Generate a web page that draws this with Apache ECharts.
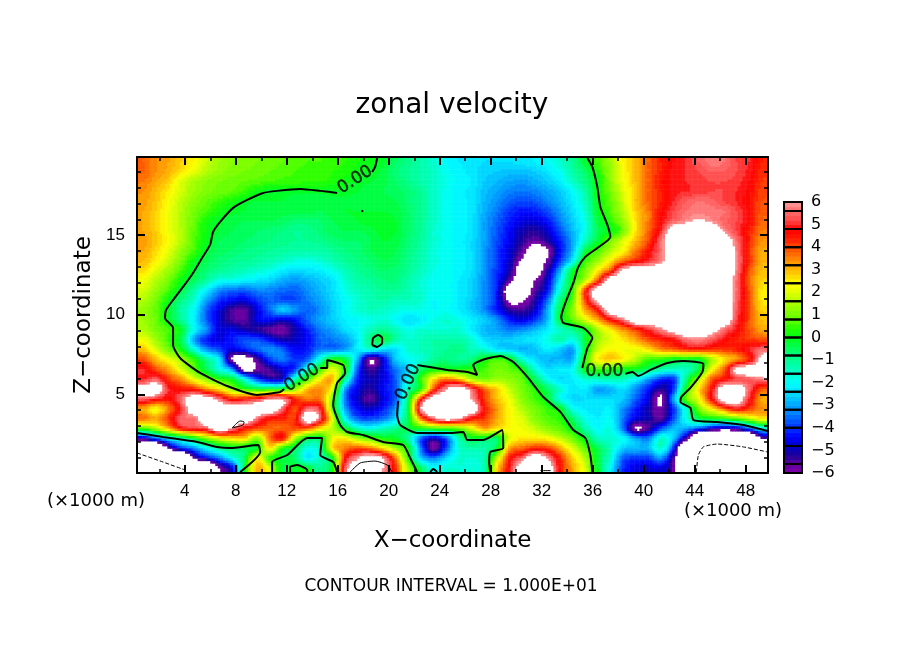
<!DOCTYPE html>
<html><head><meta charset="utf-8">
<script src="https://cdn.jsdelivr.net/npm/echarts@6/dist/echarts.min.js"></script>
<style>html,body{margin:0;padding:0;background:#fff}#c{width:904px;height:654px}</style>
</head><body><div id="c"></div>
<script>
const xMin=0.25,xMax=49.75,zMin=0.05,zMax=19.92;
const xMajorTicks=[4,8,12,16,20,24,28,32,36,40,44,48];
const xMinorTicks=[2,6,10,14,18,22,26,30,34,38,42,46];
const zMajorTicks=[5,10,15];
const zMinorTicks=[1,2,3,4,6,7,8,9,11,12,13,14,16,17,18,19];
const paletteStops=['#8000a8','#6000a0','#1c0098','#0000c8','#0000ff','#0030ff','#0060ff','#0090ff','#00b8ff','#00e0ff','#00ffff','#00ffd0','#00ffa8','#00ff80','#00ff50','#00ff18','#20ff00','#60ff00','#88ff00','#b0ff00','#e0ff00','#ffff00','#ffd000','#ffa800','#ff7800','#ff4c00','#ff1800','#ff0000','#ff4848','#ff6c6c','#ff9c9c'];
const colorBoxEdges=[-6,-5.6,-4.8,-4,-3.2,-2.4,-1.6,-0.8,0,0.8,1.6,2.4,3.2,4,4.8,5.6,6];
const colorBandLevels=[-5.9,-5.7,-5.5,-5.3,-5.1,-4.9,-4.7,-4.5,-4.3,-4.1,-3.9,-3.7,-3.5,-3.3,-3.1,-2.9,-2.7,-2.5,-2.3,-2.1,-1.9,-1.7,-1.5,-1.3,-1.1,-0.9,-0.7,-0.5,-0.3,-0.1,0.1,0.3,0.5,0.7,0.9,1.1,1.3,1.5,1.7,1.9,2.1,2.3,2.5,2.7,2.9,3.1,3.3,3.5,3.7,3.9,4.1,4.3,4.5,4.7,4.9,5.1,5.3,5.5,5.7,5.9];

// zonal velocity, top row first, 50 columns by 32 rows; beyond +-6 is off-scale (white)
const velocityRows=[
[3.8,3.4,3.2,2.8,2.4,1.8,1.4,1.2,1.1,1,.9,.8,.7,.6,.6,.5,.4,.2,.1,-.1,-.6,-.9,-1.2,-1.6,-2,-2.2,-2.3,-2.4,-2.4,-2.4,-2.3,-2.2,-2,-1.6,-1,-.2,.6,1.4,2.4,3,3.8,4.4,4.8,5,5.4,5.7,5.6,5.2,5,4.4],
[3.8,3.4,3.1,2.6,2.1,1.6,1.3,1.1,1,.9,.8,.7,.6,.5,.5,.4,.3,.1,-.05,-.3,-.7,-1,-1.2,-1.5,-1.9,-2.1,-2.3,-2.5,-2.6,-2.7,-2.7,-2.6,-2.3,-1.9,-1.2,-.6,.3,1.3,2.3,3,3.8,4.4,4.9,5,5.2,5.4,5.4,5.2,4.9,4.3],
[3.6,3.2,2.8,2,1.5,1.2,1,.9,.8,.7,.6,.5,.5,.4,.4,.3,.1,-.1,-.2,-.3,-.6,-.9,-1.2,-1.5,-1.8,-2.1,-2.2,-2.6,-2.8,-3,-3.1,-2.9,-2.6,-2.2,-1.5,-.8,0,1.2,2.2,3,3.8,4.5,4.9,5,5.1,5.2,5.2,5.1,4.8,4.2],
[3.4,3,2.5,1.9,1.4,1.1,.9,.8,.5,.1,-.1,-.1,-.1,-.1,-.1,-.1,-.1,-.2,-.3,-.4,-.5,-.7,-1,-1.5,-1.9,-2.1,-2.3,-2.7,-3,-3.3,-3.4,-3.3,-3,-2.6,-2,-1.2,.1,1,2,2.9,3.8,4.4,4.9,5,5.1,5.2,5.2,5,4.7,4.1],
[3.3,2.9,2.3,1.7,1.2,.8,.5,.2,-.1,-.2,-.2,-.2,-.3,-.3,-.3,-.3,-.3,-.3,-.3,-.3,-.4,-.7,-1,-1.5,-1.9,-2.1,-2.3,-2.8,-3.2,-3.6,-3.8,-3.7,-3.3,-2.8,-2.2,-1.4,0,.8,1.8,3,3.8,4.4,5,5.4,5.6,5.5,5.2,5,4.6,4],
[3.2,2.8,2.2,1.6,1,.6,.2,-.1,-.2,-.3,-.3,-.3,-.3,-.3,-.4,-.3,-.2,-.2,-.2,-.2,-.3,-.6,-1,-1.5,-1.9,-2.1,-2.3,-2.9,-3.4,-4,-4.3,-4.2,-3.8,-3.1,-2.4,-1.6,-.1,.7,1.6,2.8,3.6,4.6,5.2,5.6,5.7,5.7,5.6,5.2,4.7,3.9],
[3.2,2.8,2.2,1.6,.9,.2,-.1,-.3,-.4,-.4,-.4,-.5,-.7,-.7,-.6,-.4,-.3,-.2,-.1,-.1,-.2,-.6,-1,-1.5,-1.9,-2.1,-2.3,-3,-3.6,-4.2,-4.6,-4.7,-4.3,-3.4,-2.6,-1.8,-.3,.4,1.3,2.6,3.6,4.7,5.5,5.9,6.2,5.9,5.5,5.2,4.7,3.8],
[3.2,2.8,2.2,1.6,.8,.1,-.2,-.4,-.5,-.6,-.7,-.8,-1,-.9,-.7,-.5,-.4,-.4,-.3,-.1,-.2,-.6,-1,-1.6,-1.9,-2.1,-2.3,-3,-3.7,-4.4,-5,-5.2,-4.8,-3.8,-2.8,-1.8,-.4,0,1,2.6,3.8,5,7,7,7,7,5.9,5.2,4.4,3.6],
[3.3,2.9,2.3,1.6,.7,.05,-.4,-.5,-.6,-.7,-.8,-.9,-1,-1,-.9,-.7,-.6,-.6,-.4,-.2,-.3,-.7,-1.1,-1.6,-1.9,-2.1,-2.4,-3,-3.8,-4.5,-5.2,-5.7,-5.2,-4.2,-3,-1.4,-.2,1,2,3,4,5.6,7,7,7,7,7,5.6,4.4,3.4],
[3.2,2.7,2.1,1.3,.6,-.2,-.5,-.6,-.8,-.9,-1,-1.1,-1.2,-1.2,-1.2,-1,-.8,-.7,-.4,-.3,-.4,-.8,-1.2,-1.7,-1.9,-2.1,-2.4,-3.1,-3.9,-4.7,-5.6,-7,-6.2,-4.4,-2.8,-.4,.7,1.6,2.4,3.6,4.6,5.6,7,7,7,7,7,5.8,4.2,3.2],
[3,2.5,1.8,1,.05,-.4,-.7,-.9,-1,-1.1,-1.3,-1.5,-1.7,-1.8,-1.6,-1.3,-1,-.8,-.6,-.4,-.5,-.9,-1.3,-1.7,-1.9,-2.1,-2.4,-3.1,-3.9,-4.8,-6.2,-7,-5.8,-4,-2.2,.4,1.3,2.5,3.7,4.4,5,5.8,7,7,7,7,7,5.8,4.3,3.1],
[2.7,2,1.4,.6,-.2,-.7,-1,-1.2,-1.4,-1.6,-1.8,-2.2,-2.4,-2.3,-2.2,-1.8,-1.4,-1,-.8,-.6,-.7,-1,-1.4,-1.8,-1.9,-2.1,-2.4,-3.1,-4,-5,-7,-7,-5.2,-3,-.2,1,2.5,4,6.5,7,7,7,7,7,7,7,7,5.8,4,3],
[2.2,1.6,1,.1,-.5,-1.1,-1.8,-1.9,-2.1,-2.3,-2.5,-2.9,-3.1,-2.9,-2.6,-2.3,-1.6,-1.2,-1,-.8,-.8,-1.2,-1.6,-1.9,-1.9,-2.2,-2.5,-3.2,-4.1,-5.6,-7,-6,-4.8,-2.2,.1,1.6,4,7,7,7,7,7,7,7,7,7,7,5.6,3.8,2.8],
[1.9,1.3,.6,-.3,-1.2,-2.2,-3.2,-3.5,-3.6,-3.3,-3.3,-3.5,-3.6,-3.2,-2.8,-2.4,-1.8,-1.4,-1.2,-1,-1,-1.3,-1.6,-1.9,-1.9,-2.2,-2.5,-3.2,-4.2,-7,-7,-5.6,-4.4,-1.6,.4,4.2,7,7,7,7,7,7,7,7,7,7,7,5.6,4,2.6],
[1.6,1,.05,-.8,-1.6,-3,-4,-4.4,-4.6,-4,-3.6,-3.8,-3.8,-3.4,-3,-2.5,-2,-1.6,-1.3,-1.2,-1.4,-1.4,-1.6,-2,-1.9,-2.2,-2.6,-3.2,-4.2,-6.4,-6.2,-5.2,-3.6,-.8,.8,4,6.5,7,7,7,7,7,7,7,7,7,7,5.5,4,2.6],
[1.3,.8,-.1,-1.2,-2,-3.6,-4.6,-5.4,-5.6,-4.6,-3.6,-2.6,-3.2,-3.6,-3.2,-2.6,-2,-1.6,-1.4,-1.5,-1.7,-1.8,-1.8,-2,-1.9,-2.2,-2.6,-3.2,-4.2,-5.2,-5.4,-4.8,-3,-.4,1.2,3.2,4.6,7,7,7,7,7,7,7,7,7,7,5.4,4,2.8],
[1.4,.9,0,-1,-2.2,-3.6,-4.8,-5.4,-5.6,-4.6,-4.4,-4.8,-4.4,-3.6,-3,-2.6,-2.2,-2,-1.8,-1.6,-2,-2.4,-2.2,-1.8,-1.6,-1.8,-2.2,-2.6,-3.2,-4.2,-4.6,-4,-2.8,-.4,.8,2,3.2,4.6,5.6,7,7,7,7,7,7,7,7,5.2,4,3],
[1.6,1,.6,-.1,-2,-3.2,-4.6,-4.6,-5,-5.2,-5.6,-5.8,-5,-4.2,-3.4,-3,-2.4,-2,-1.4,-1,-1.4,-1.8,-1.6,-1.6,-1.6,-1.6,-2.2,-2.8,-3,-3.4,-3.2,-2.8,-2.2,-1.5,-.9,0,1.5,2.5,3.4,4.2,5,5.8,6.5,7,7,6.5,5.6,4.8,4,3.2],
[2.2,1.4,.5,-.4,-3,-4.2,-4.6,-4.2,-3.8,-3.8,-4.4,-5,-4.8,-4.4,-3.6,-3.4,-3,-2.2,-.8,-.3,-1.2,-1.6,-1.4,-1.2,-1.2,-1.2,-1.6,-2.4,-2.6,-2.6,-2.4,-2.3,-1.8,-1.2,-1.8,-.2,1.4,2,2.6,3.2,4,4.4,4.8,5.6,5.8,5.4,4.8,4.4,4.2,4],
[3,2,1,.2,-1.6,-3.2,-3.8,-4.6,-4.2,-3.6,-3.2,-3.6,-4.4,-4.2,-3.4,-3.4,-3,-2.2,-1.8,-2.4,-2.4,-1.6,-1.4,-1.2,-1,-.8,-1.4,-1.6,-2.3,-2.5,-2.8,-2.7,-2.2,-2.6,-3,-.2,1.8,2.4,2.2,2.2,2.6,3.4,3.8,4.2,4.4,4.2,4.2,4.4,5,5.6],
[4,3,2.2,1.4,.4,-1,-2.2,-6,-7,-5.5,-4,-3.4,-4,-3.6,-1.6,.2,-.3,-3,-6.1,-4.6,-2.6,-2,-1.6,-1,-.8,-1,-.8,.1,.6,.2,-1.6,-2.4,-2.8,-2.8,-2.8,.3,2.4,2.8,2.4,1.6,.6,.4,0,0,0,1.4,2.6,3.4,4.4,6.4],
[5,4,3.2,2,.8,-.4,-1.8,-3,-6.5,-5.8,-5.4,-4.6,-4,-1.6,.4,2,.2,-3.8,-5.4,-4.6,-3.4,-2.4,-.6,.1,.2,.2,.3,.6,1,.8,.2,-1.6,-2.4,-2.2,-2,0,.6,.3,.1,0,-.6,-1.2,-1.5,-1.4,-.3,2.2,3.8,6.5,7,7],
[5,5.4,4.2,3.4,2.2,1.2,.4,-.1,-1.8,-3.8,-4.8,-4.6,-1.4,.6,2.4,3,-1,-4.2,-5,-4.6,-3.6,-1.8,.5,2.6,3.6,3,1.6,1,1.4,1.2,.8,-.4,-1.8,-2.4,-2.2,-1.6,-1.4,-1.2,-1.4,-2,-3,-4,-4,-.8,1.5,3.8,4.6,5.2,5.4,5.8],
[6.5,7,5,4.6,4.4,3.4,2.6,1.4,.4,0,-.1,.1,1.2,3,3.4,2,-3,-4.6,-5.2,-4.4,-3.6,-1.2,.4,4,6,7,5.5,3.8,2.8,1.8,1,.4,-.5,-1.6,-2.3,-2.2,-3,-2.8,-2.4,-3.2,-4.2,-5.2,-4,.1,2.6,4.5,7,7,5.5,4],
[5.5,5,4.6,5.6,7,6.8,5.6,4.4,4.6,5,6,6,4.4,3.6,3.6,1,-3.4,-4.8,-5.6,-4.6,-3.6,-.4,4.4,7,7,7,6,4.2,3,2.2,1.2,.6,-.1,-1.8,-2.4,-2.4,-2.4,-2.4,-2.6,-3.6,-4.6,-6.3,-3,.8,2.2,4.6,6.8,7,5,3.2],
[3.2,2.4,3.6,5,7,7,7,7,7,7,7,5.6,4,5.6,5,.8,-3,-4.4,-4.8,-4.2,-3,-.1,6,7,7,7,7,4.6,3.4,2.4,1.6,1,.5,0,-1.8,-2.2,-2.3,-2.2,-3.2,-4.2,-5,-5.8,-4,-1.5,1,2.4,3.8,4.8,4.2,3.4],
[3.6,3.2,4.2,5.5,5.6,7,7,7,7,5.6,4.6,4.4,4.2,7,5.4,2,-2,-3.6,-3.8,-3.4,-2.4,-.2,3.6,5.6,6.5,6,4.6,4.2,3.2,2.4,2,1.2,.7,.4,-.6,-1.8,-2.2,-2,-3.4,-4.6,-5,-5.6,-3.8,-1.8,-.4,-.1,.2,.8,1.6,2.4],
[.6,1.6,3,4.6,5,5.4,7,5.8,4.6,4,3.8,3.8,4,3.8,2.6,1.6,0,-1.4,-1.8,-1.4,-.9,-.3,.1,.5,.6,1,2,3.2,2.6,2.4,2.2,1.8,1.2,.8,.1,-1.2,-2,-1.8,-3.4,-6.1,-5.4,-3.8,-2.8,-3,-3.8,-4.8,-5.4,-5,-3.6,-2],
[-5,-3.6,-2.2,-1.2,-.1,1.2,2.2,2.6,2.8,1.2,3.6,4.6,1.6,-.2,-.3,2.2,2.4,1.4,.8,.2,-.1,-1.2,-3.6,-4.8,-3.6,-1.2,-.2,-.3,-.5,2,2.6,2.6,2.4,1.8,1,-.1,-1.4,-1.6,-2,-3,-3.4,-1.6,-2.6,-5.5,-10,-10,-10,-10,-10,-6],
[-10,-10,-6,-4.2,-3.2,-2,-1,-.4,-.4,0,2.6,.3,-.4,-1.8,-1.2,2.6,3.6,4,3.6,2.6,1.4,.1,-3.4,-5.8,-3.8,-1.6,-1.2,-1.2,-.2,3.2,3.8,4.4,4.2,3.2,2,.8,-.4,-1.4,-2.6,-2.8,-2.8,-1.6,-4,-10,-10,-10,-10,-10,-10,-10],
[-10,-10,-10,-10,-6,-4.6,-3.4,-2,-.5,2.4,.5,-.2,-.6,-2.2,-1.4,.1,4.6,6,7,6,3.6,.4,-2.6,-3.4,-2.4,-1.6,-1.6,-1.2,1.6,4.4,5.6,7,6,4.4,2.8,1.6,-.3,-1.6,-3.6,-4,-4,-3.2,-5.4,-10,-10,-10,-10,-10,-10,-10],
[-10,-10,-10,-10,-10,-10,-6,-4.6,-.2,3,2,-.2,-.1,-.1,-1,.3,5.4,7,7,6,4.2,1.4,-.5,-2,-1.6,-1.6,-1.6,-1.2,2.6,4.8,7,7,7,4.6,3.2,2,-.2,-2,-4,-4.6,-4.8,-4.6,-5.8,-10,-10,-10,-10,-10,-10,-10]
];

// contour traces in axis units (x km, z km)
const zeroContours=[
[[15.95,17.66],[14.62,17.79],[13.05,17.91],[11.24,17.79],[10.14,17.66],[8.89,17.22],[7.79,16.72],[6.77,15.84],[6.22,15.21],[5.98,14.39],[5.35,13.57],[4.65,12.63],[3.86,11.75],[3.08,10.93],[2.53,10.30],[2.45,9.80],[3.08,9.17],[3.08,8.10],[3.63,7.28],[5.20,6.34],[7.32,5.52],[9.67,4.96],[11.48,5.14],[11.79,5.33]],
[[14.62,6.65],[15.17,6.65],[15.17,7.16],[16.42,6.84],[16.58,6.34],[15.95,5.71],[15.64,4.33],[16.19,3.07],[16.74,2.63],[17.99,2.44],[19.56,2.00],[21.13,1.81],[21.68,.99],[22.23,.11]],
[[18.70,18.98],[18.93,19.30],[19.09,19.86]],
[[22.23,6.84],[24.59,6.53],[26.16,6.40],[26.94,6.21],[26.63,6.84],[27.33,7.16],[28.75,7.41],[29.77,7.03],[30.87,6.09],[32.12,4.83],[33.46,3.89],[34.48,2.75],[35.42,2.25],[35.81,1.18],[35.97,.11]],
[[20.74,4.58],[20.66,3.70],[20.90,3.07],[22.23,2.57],[24.82,2.57],[25.84,2.63],[26.16,2.13],[27.41,2.13],[28.90,2.75],[28.98,1.62],[27.96,1.37],[27.88,.74],[27.96,.11]],
[[35.58,19.86],[35.97,19.30],[36.36,18.04],[36.60,16.78],[37.15,15.65],[37.38,14.89],[36.36,14.20],[35.42,13.64],[34.87,13.01],[34.48,12.00],[33.85,10.74],[33.53,9.86],[33.69,9.49],[35.26,9.17],[35.97,8.54],[35.58,7.91],[35.18,6.65]],
[[38.56,6.28],[39.11,6.40],[39.58,6.15],[40.52,6.53],[41.86,6.97],[43.11,7.10],[44.68,6.91],[44.60,6.40],[43.66,5.40],[42.95,4.83],[42.88,4.52],[43.66,4.14],[43.90,3.38],[45.78,3.26],[47.82,3.07],[49.71,2.69]],
[[.25,2.57],[2.29,2.31],[4.96,2.00],[6.53,1.69],[7.55,1.62],[9.75,1.81],[9.91,1.37],[8.34,.11]],
[[10.85,.11],[10.85,.74],[12.03,1.18],[13.6,2.25],[14.77,2.25],[14.62,1.18],[15.64,.74],[15.95,.11]],
[[12.26,.11],[12.26,.43],[12.81,.55],[13.6,.24],[13.6,.11]],
[[23.25,.11],[23.49,.30],[23.8,.11]],
[[18.70,8.10],[18.78,8.54],[19.17,8.73],[19.48,8.54],[19.48,8.23],[19.09,7.98],[18.70,8.10]],
[[17.85,16.5],[18.0,16.55]]
];
const plusTenContours=[
[[7.71,2.88],[8.34,3.32],[8.65,3.26],[8.57,3.07],[7.71,2.88]],
[[16.97,.11],[17.76,.68],[18.93,.80],[19.88,.55],[20.27,.11]],
[[31.89,.2],[32.7,.2]]
];
const minusTenContours=[
[[.25,1.31],[2.29,.74],[4.02,.24]],
[[44.13,.11],[44.29,1.18],[44.68,1.69],[45.78,1.87],[47.82,1.69],[49.71,1.37]]
];
const contourLabelX=[17.36,13.2,21.52,36.91];
const contourLabelZ=[18.48,6.03,5.77,6.40];
const contourLabelAngle=[32,32,66,0];

const FONT='"Liberation Sans"', WIDE='"DejaVu Sans"';
const COLS=50, ROWS=32, SUBX=5, SUBY=4;
const cellW=(xMax-xMin)/COLS, cellH=(zMax-zMin)/ROWS;
const cells=[];
velocityRows.forEach((row,r)=>row.forEach((v,c)=>cells.push([xMin+(c+.5)*cellW, zMax-(r+.5)*cellH, v])));

const rgbStops=paletteStops.map(h=>[parseInt(h.slice(1,3),16),parseInt(h.slice(3,5),16),parseInt(h.slice(5,7),16)]);
const bandCache={};
function bandColor(v){
  if(v>6||v<-6) return '#ffffff';
  const band=Math.min(59,Math.floor((v+6)/0.2));
  if(bandCache[band]) return bandCache[band];
  const t=(band+.5)/2, i=Math.min(29,Math.floor(t)), f=t-i;
  const a=rgbStops[i], b=rgbStops[i+1];
  return bandCache[band]='rgb('+[0,1,2].map(k=>Math.round(a[k]+(b[k]-a[k])*f)).join(',')+')';
}
// display shading only: smooth between the readings when painting a cell (same idea as smooth:true on a line)
function cr(p0,p1,p2,p3,t){return .5*(2*p1+(p2-p0)*t+(2*p0-5*p1+4*p2-p3)*t*t+(3*p1-p0-3*p2+p3)*t*t*t);}
function at(r,c){return velocityRows[Math.max(0,Math.min(ROWS-1,r))][Math.max(0,Math.min(COLS-1,c))];}
function shade(fr,fc){
  const r=Math.floor(fr),c=Math.floor(fc),tr=fr-r,tc=fc-c,q=[];
  for(let k=-1;k<3;k++) q.push(cr(at(r+k,c-1),at(r+k,c),at(r+k,c+1),at(r+k,c+2),tc));
  return cr(q[0],q[1],q[2],q[3],tr);
}
function cellRender(params,api){
  const idx=params.dataIndex, r=Math.floor(idx/COLS), c=idx%COLS;
  const a=api.coord([api.value(0)-cellW/2,api.value(1)+cellH/2]);
  const b=api.coord([api.value(0)+cellW/2,api.value(1)-cellH/2]);
  const w=(b[0]-a[0])/SUBX,h=(b[1]-a[1])/SUBY,children=[];
  for(let j=0;j<SUBY;j++){
    for(let i=0;i<SUBX;i++){
      const col=bandColor(shade(r+(j+.5)/SUBY-.5,c+(i+.5)/SUBX-.5));
      if(col==='#ffffff') continue;
      children.push({type:'rect',shape:{x:a[0]+i*w,y:a[1]+j*h,width:w+.5,height:h+.5},style:{fill:col}});
    }
  }
  return {type:'group',children:children};
}
function barRender(params,api){
  const a=api.coord([0,api.value(1)+.1]), b=api.coord([1,api.value(1)-.1]);
  return {type:'rect',shape:{x:a[0],y:a[1],width:b[0]-a[0],height:b[1]-a[1]+.6},style:{fill:bandColor(api.value(1))}};
}
function xAxisOf(pos,ticks,len,labels,line){
  return {type:'value',gridIndex:0,min:xMin,max:xMax,position:pos,z:6,splitLine:{show:false},
    axisLine:{show:line,onZero:false,lineStyle:{color:'#000',width:2}},
    axisTick:{show:true,inside:true,length:len,customValues:ticks,lineStyle:{color:'#000',width:len>4?2:1.5}},
    axisLabel:labels?{show:true,customValues:ticks,margin:10,color:'#000',fontFamily:FONT,fontSize:17}:{show:false},
    name:labels?'X\u2212coordinate':'',nameLocation:'center',nameGap:57,nameTextStyle:{color:'#000',fontFamily:WIDE,fontSize:23}};
}
function zAxisOf(pos,ticks,len,labels,line){
  return {type:'value',gridIndex:0,min:zMin,max:zMax,position:pos,z:6,splitLine:{show:false},
    axisLine:{show:line,onZero:false,lineStyle:{color:'#000',width:2}},
    axisTick:{show:true,inside:true,length:len,customValues:ticks,lineStyle:{color:'#000',width:len>4?2:1.5}},
    axisLabel:labels?{show:true,customValues:ticks,margin:12,color:'#000',fontFamily:FONT,fontSize:17}:{show:false},
    name:labels?'Z\u2212coordinate':'',nameLocation:'center',nameGap:40,nameTextStyle:{color:'#000',fontFamily:WIDE,fontSize:23}};
}
function lineSeries(pts,width,type){
  return {type:'line',xAxisIndex:0,yAxisIndex:0,data:pts,showSymbol:false,symbol:'none',silent:true,z:3,clip:true,animation:false,smooth:0.2,
    lineStyle:{color:'#000',width:width,type:type}};
}
const series=[
 {type:'custom',xAxisIndex:0,yAxisIndex:0,data:cells,renderItem:cellRender,encode:{x:0,y:1},z:1,clip:true,silent:true,animation:false,progressive:0},
 {type:'custom',xAxisIndex:4,yAxisIndex:4,data:colorBandLevels.map(l=>[.5,l,l]),renderItem:barRender,encode:{x:0,y:1},z:1,silent:true,animation:false},
 {type:'custom',xAxisIndex:4,yAxisIndex:4,data:colorBoxEdges.slice(0,-1).map((e,i)=>[e,colorBoxEdges[i+1]]),encode:{y:[0,1]},z:2,silent:true,animation:false,
  renderItem:(p,api)=>{const a=api.coord([0,api.value(1)]),b=api.coord([1,api.value(0)]);
   return {type:'rect',shape:{x:a[0],y:a[1],width:b[0]-a[0],height:b[1]-a[1]},style:{fill:'none',stroke:'#000',lineWidth:2}};}},
 {type:'scatter',xAxisIndex:0,yAxisIndex:0,z:4,silent:true,symbolSize:0,animation:false,
  data:contourLabelX.map((x,i)=>({value:[x,contourLabelZ[i]],label:{show:true,position:'inside',formatter:'0.00',rotate:contourLabelAngle[i],color:'#000',fontFamily:WIDE,fontSize:17,textBorderColor:'#000',textBorderWidth:.5}}))}
];
zeroContours.forEach(p=>series.push(lineSeries(p,2,'solid')));
plusTenContours.forEach(p=>series.push(lineSeries(p,1,'solid')));
minusTenContours.forEach(p=>series.push(lineSeries(p,1,'dashed')));

const option={
 animation:false,backgroundColor:'#fff',
 title:[
  {text:'zonal velocity',left:447,top:87,textAlign:'center',textStyle:{color:'#000',fontFamily:WIDE,fontWeight:'normal',fontSize:28}},
  {text:'CONTOUR INTERVAL = 1.000E+01',left:446,top:573,textAlign:'center',textStyle:{color:'#000',fontFamily:WIDE,fontWeight:'normal',fontSize:17}},
  {text:'(\u00d71000 m)',left:91,top:487,textAlign:'center',textStyle:{color:'#000',fontFamily:WIDE,fontWeight:'normal',fontSize:18}},
  {text:'(\u00d71000 m)',left:728,top:497,textAlign:'center',textStyle:{color:'#000',fontFamily:WIDE,fontWeight:'normal',fontSize:18}}
 ],
 grid:[{left:137,top:157,width:631,height:316},{left:784,top:202,width:18,height:271}],
 xAxis:[xAxisOf('bottom',xMajorTicks,8,true,true),xAxisOf('top',xMajorTicks,8,false,true),xAxisOf('bottom',xMinorTicks,4,false,false),xAxisOf('top',xMinorTicks,4,false,false),
  {type:'value',gridIndex:1,min:0,max:1,show:false}],
 yAxis:[zAxisOf('left',zMajorTicks,8,true,true),zAxisOf('right',zMajorTicks,8,false,true),zAxisOf('left',zMinorTicks,4,false,false),zAxisOf('right',zMinorTicks,4,false,false),
  {type:'value',gridIndex:1,min:-6,max:6,interval:1,position:'right',splitLine:{show:false},axisLine:{show:false},axisTick:{show:false},
   axisLabel:{margin:9,color:'#000',fontFamily:WIDE,fontSize:16,formatter:v=>String(v).replace('-','\u2212')}}],
 series:series
};
echarts.init(document.getElementById('c')).setOption(option);
</script></body></html>
